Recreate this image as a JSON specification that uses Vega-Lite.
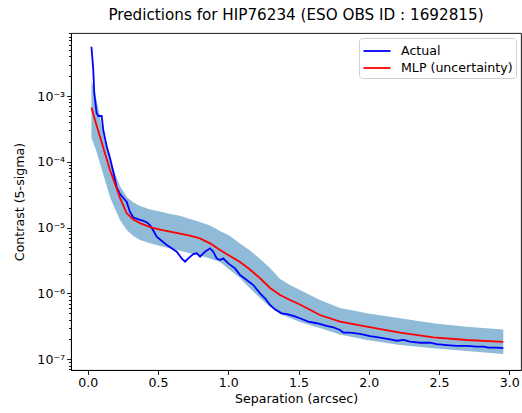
{
  "$schema": "https://vega.github.io/schema/vega-lite/v6.json",
  "autosize": {"type": "none"},
  "padding": {"left": 71, "top": 33, "right": 1, "bottom": 43},
  "width": 450,
  "height": 337,
  "background": "white",
  "title": {"text": "Predictions for HIP76234 (ESO OBS ID : 1692815)", "font": "DejaVu Sans", "fontSize": 15.2, "fontWeight": "normal", "color": "black", "offset": 4, "anchor": "middle"},
  "config": {
    "view": {"stroke": "black", "strokeWidth": 0.9},
    "axis": {"labelFont": "DejaVu Sans", "titleFont": "DejaVu Sans", "labelFontSize": 12.6, "titleFontSize": 12.6, "labelColor": "black", "titleColor": "black", "tickColor": "black", "domainColor": "black", "grid": false, "titleFontWeight": "normal", "tickWidth": 0.9, "domainWidth": 0.9}
  },
  "datasets": {
    "actual": [
      {"x": 0.026, "y": 5.61e-3}, {"x": 0.039, "y": 2.48e-3}, {"x": 0.046, "y": 1.10e-3}, {"x": 0.063, "y": 5.46e-4}, {"x": 0.075, "y": 4.97e-4}, {"x": 0.099, "y": 4.97e-4}, {"x": 0.110, "y": 3.04e-4}, {"x": 0.135, "y": 1.69e-4}, {"x": 0.158, "y": 1.14e-4}, {"x": 0.181, "y": 7.13e-5}, {"x": 0.206, "y": 4.06e-5}, {"x": 0.229, "y": 3.24e-5}, {"x": 0.277, "y": 2.45e-5}, {"x": 0.300, "y": 1.73e-5}, {"x": 0.324, "y": 1.42e-5}, {"x": 0.372, "y": 1.31e-5}, {"x": 0.395, "y": 1.27e-5}, {"x": 0.421, "y": 1.20e-5}, {"x": 0.443, "y": 1.08e-5}, {"x": 0.464, "y": 9.2e-6}, {"x": 0.490, "y": 7.28e-6}, {"x": 0.562, "y": 5.44e-6}, {"x": 0.633, "y": 4.31e-6}, {"x": 0.668, "y": 3.41e-6}, {"x": 0.692, "y": 3.03e-6}, {"x": 0.715, "y": 3.41e-6}, {"x": 0.751, "y": 3.97e-6}, {"x": 0.775, "y": 4.07e-6}, {"x": 0.799, "y": 3.61e-6}, {"x": 0.834, "y": 4.31e-6}, {"x": 0.870, "y": 4.84e-6}, {"x": 0.893, "y": 4.31e-6}, {"x": 0.917, "y": 3.41e-6}, {"x": 0.941, "y": 3.22e-6}, {"x": 0.964, "y": 3.41e-6}, {"x": 1.000, "y": 2.86e-6}, {"x": 1.048, "y": 2.40e-6}, {"x": 1.083, "y": 1.91e-6}, {"x": 1.131, "y": 1.60e-6}, {"x": 1.178, "y": 1.34e-6}, {"x": 1.226, "y": 1.00e-6}, {"x": 1.261, "y": 8.43e-7}, {"x": 1.297, "y": 6.67e-7}, {"x": 1.332, "y": 5.73e-7}, {"x": 1.380, "y": 4.99e-7}, {"x": 1.416, "y": 4.86e-7}, {"x": 1.463, "y": 4.54e-7}, {"x": 1.510, "y": 4.19e-7}, {"x": 1.569, "y": 3.72e-7}, {"x": 1.629, "y": 3.52e-7}, {"x": 1.700, "y": 3.20e-7}, {"x": 1.747, "y": 3.06e-7}, {"x": 1.795, "y": 2.78e-7}, {"x": 1.819, "y": 2.53e-7}, {"x": 1.866, "y": 2.53e-7}, {"x": 1.937, "y": 2.42e-7}, {"x": 2.009, "y": 2.25e-7}, {"x": 2.080, "y": 2.12e-7}, {"x": 2.151, "y": 2.00e-7}, {"x": 2.199, "y": 1.91e-7}, {"x": 2.246, "y": 1.96e-7}, {"x": 2.293, "y": 1.85e-7}, {"x": 2.364, "y": 1.78e-7}, {"x": 2.435, "y": 1.78e-7}, {"x": 2.483, "y": 1.70e-7}, {"x": 2.554, "y": 1.64e-7}, {"x": 2.626, "y": 1.59e-7}, {"x": 2.697, "y": 1.59e-7}, {"x": 2.768, "y": 1.55e-7}, {"x": 2.815, "y": 1.55e-7}, {"x": 2.851, "y": 1.50e-7}, {"x": 2.910, "y": 1.50e-7}, {"x": 2.957, "y": 1.47e-7}
    ],
    "band": [
      {"x": 0.026, "lo": 2.30e-4, "mlp": 6.68e-4, "hi": 1.69e-3},
      {"x": 0.051, "lo": 1.68e-4, "mlp": 4.32e-4, "hi": 1.15e-3},
      {"x": 0.087, "lo": 9.42e-5, "mlp": 2.40e-4, "hi": 4.80e-4},
      {"x": 0.122, "lo": 5.29e-5, "mlp": 1.35e-4, "hi": 2.00e-4},
      {"x": 0.158, "lo": 2.92e-5, "mlp": 7.50e-5, "hi": 1.10e-4},
      {"x": 0.194, "lo": 1.92e-5, "mlp": 4.60e-5, "hi": 6.53e-5},
      {"x": 0.229, "lo": 1.30e-5, "mlp": 2.82e-5, "hi": 4.29e-5},
      {"x": 0.277, "lo": 9.19e-6, "mlp": 1.65e-5, "hi": 2.92e-5},
      {"x": 0.324, "lo": 7.45e-6, "mlp": 1.33e-5, "hi": 2.41e-5},
      {"x": 0.372, "lo": 6.48e-6, "mlp": 1.17e-5, "hi": 2.13e-5},
      {"x": 0.443, "lo": 5.77e-6, "mlp": 1.02e-5, "hi": 1.88e-5},
      {"x": 0.514, "lo": 5.25e-6, "mlp": 9.29e-6, "hi": 1.75e-5},
      {"x": 0.585, "lo": 4.84e-6, "mlp": 8.67e-6, "hi": 1.61e-5},
      {"x": 0.656, "lo": 4.46e-6, "mlp": 8.07e-6, "hi": 1.52e-5},
      {"x": 0.727, "lo": 4.07e-6, "mlp": 7.53e-6, "hi": 1.35e-5},
      {"x": 0.798, "lo": 3.77e-6, "mlp": 6.87e-6, "hi": 1.22e-5},
      {"x": 0.870, "lo": 3.39e-6, "mlp": 5.77e-6, "hi": 1.08e-5},
      {"x": 0.941, "lo": 3.00e-6, "mlp": 4.57e-6, "hi": 8.87e-6},
      {"x": 1.012, "lo": 2.27e-6, "mlp": 3.70e-6, "hi": 7.45e-6},
      {"x": 1.083, "lo": 1.71e-6, "mlp": 3.00e-6, "hi": 5.73e-6},
      {"x": 1.154, "lo": 1.20e-6, "mlp": 2.31e-6, "hi": 4.49e-6},
      {"x": 1.226, "lo": 8.5e-7, "mlp": 1.70e-6, "hi": 3.33e-6},
      {"x": 1.297, "lo": 6.2e-7, "mlp": 1.21e-6, "hi": 2.43e-6},
      {"x": 1.368, "lo": 4.86e-7, "mlp": 9.46e-7, "hi": 1.66e-6},
      {"x": 1.439, "lo": 4.23e-7, "mlp": 7.94e-7, "hi": 1.34e-6},
      {"x": 1.510, "lo": 3.67e-7, "mlp": 6.78e-7, "hi": 1.13e-6},
      {"x": 1.652, "lo": 2.98e-7, "mlp": 4.70e-7, "hi": 7.94e-7},
      {"x": 1.795, "lo": 2.37e-7, "mlp": 3.74e-7, "hi": 6.00e-7},
      {"x": 1.985, "lo": 1.96e-7, "mlp": 3.14e-7, "hi": 4.99e-7},
      {"x": 2.222, "lo": 1.64e-7, "mlp": 2.53e-7, "hi": 4.19e-7},
      {"x": 2.459, "lo": 1.47e-7, "mlp": 2.15e-7, "hi": 3.52e-7},
      {"x": 2.697, "lo": 1.33e-7, "mlp": 1.96e-7, "hi": 3.12e-7},
      {"x": 2.957, "lo": 1.20e-7, "mlp": 1.83e-7, "hi": 2.83e-7}
    ]
  },
  "layer": [
    {
      "data": {"name": "band"},
      "mark": {"type": "area", "color": "#1f77b4", "opacity": 0.5},
      "encoding": {
        "x": {"field": "x", "type": "quantitative", "scale": {"domain": [-0.1196, 3.083], "nice": false, "zero": false},
          "axis": {"title": "Separation (arcsec)", "values": [0, 0.5, 1, 1.5, 2, 2.5, 3], "format": ".1f", "tickSize": 4.4, "labelPadding": 2, "titlePadding": 3, "labelFlush": false}},
        "y": {"field": "hi", "type": "quantitative", "scale": {"type": "log", "domain": [6.855e-8, 9.066e-3], "nice": false},
          "axis": {"title": "Contrast (5-sigma)", "labelOverlap": false, "labelFlush": false, "labelPadding": 2, "titlePadding": 10,
            "values": [7e-8, 8e-8, 9e-8, 1e-7, 2e-7, 3e-7, 4e-7, 5e-7, 6e-7, 7e-7, 8e-7, 9e-7, 1e-6, 2e-6, 3e-6, 4e-6, 5e-6, 6e-6, 7e-6, 8e-6, 9e-6, 1e-5, 2e-5, 3e-5, 4e-5, 5e-5, 6e-5, 7e-5, 8e-5, 9e-5, 1e-4, 2e-4, 3e-4, 4e-4, 5e-4, 6e-4, 7e-4, 8e-4, 9e-4, 1e-3, 2e-3, 3e-3, 4e-3, 5e-3, 6e-3, 7e-3, 8e-3, 9e-3],
            "labelExpr": "abs(log(datum.value)/LN10 - round(log(datum.value)/LN10)) < 0.001 ? '10⁻' + ['⁰','¹','²','³','⁴','⁵','⁶','⁷','⁸','⁹'][round(-log(datum.value)/LN10)] : ''",
            "tickSize": {"condition": {"test": "abs(log(datum.value)/LN10 - round(log(datum.value)/LN10)) < 0.001", "value": 4.4}, "value": 2.5}}},
        "y2": {"field": "lo"}
      }
    },
    {
      "data": {"name": "actual"},
      "mark": {"type": "line", "strokeWidth": 1.8},
      "encoding": {
        "x": {"field": "x", "type": "quantitative", "title": "Separation (arcsec)"},
        "y": {"field": "y", "type": "quantitative", "title": "Contrast (5-sigma)"},
        "color": {"datum": "Actual", "type": "nominal",
          "scale": {"domain": ["Actual", "MLP (uncertainty)"], "range": ["#0000ff", "#ff0000"]},
          "legend": {"title": null, "orient": "top-right", "offset": 5, "symbolType": "M-1.5,0H1.5", "symbolSize": 324, "symbolOffset": 5, "symbolStrokeWidth": 1.8, "labelFont": "DejaVu Sans", "labelFontSize": 12.6, "labelColor": "black", "padding": 3, "strokeColor": "#d0d0d0", "fillColor": "white", "cornerRadius": 3, "rowPadding": 0, "labelOffset": 14}}
      }
    },
    {
      "data": {"name": "band"},
      "mark": {"type": "line", "strokeWidth": 1.8},
      "encoding": {
        "x": {"field": "x", "type": "quantitative", "title": "Separation (arcsec)"},
        "y": {"field": "mlp", "type": "quantitative", "title": "Contrast (5-sigma)"},
        "color": {"datum": "MLP (uncertainty)", "type": "nominal"}
      }
    }
  ]
}
